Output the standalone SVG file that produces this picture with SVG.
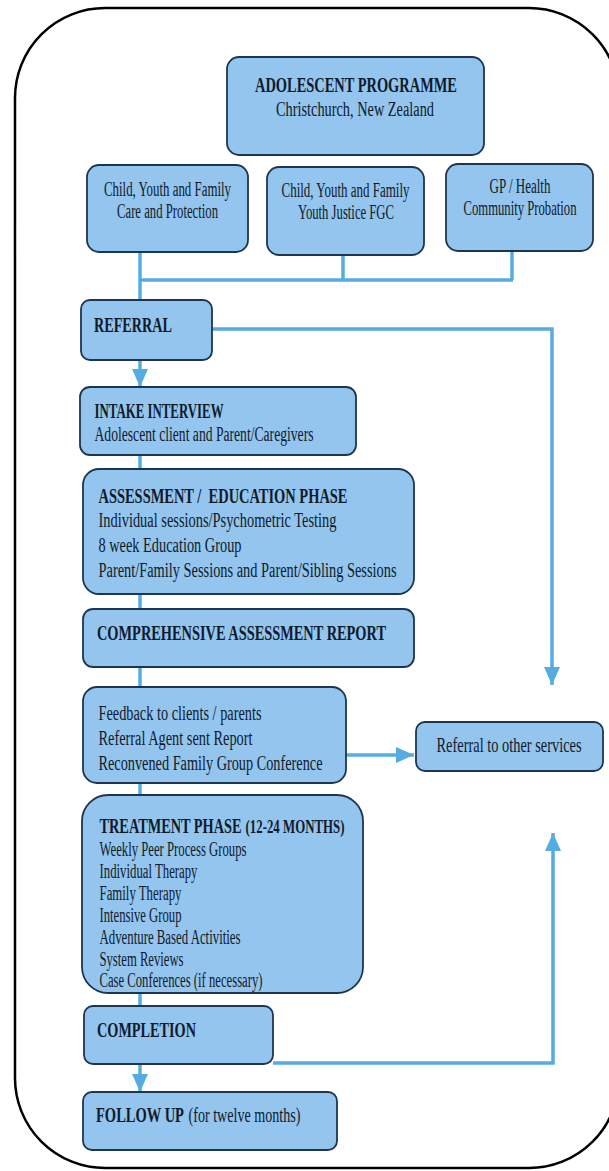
<svg xmlns="http://www.w3.org/2000/svg" width="609" height="1171" viewBox="0 0 609 1171">
<style>
.frame{fill:#fff;stroke:#000;stroke-width:2.5}
.box{fill:#93c5ee;stroke:#1e3550;stroke-width:1.8}
.t{font-family:"Liberation Serif","Times New Roman",serif;font-size:20px;fill:#111a2a}
.b{font-weight:bold}
.m{text-anchor:middle}
.c{stroke:#55ace2;stroke-width:3.5;fill:none}
</style>
<defs>
<marker id="ah" markerUnits="userSpaceOnUse" viewBox="0 0 18 16" refX="18" refY="8" markerWidth="18" markerHeight="16" orient="auto">
<path d="M0,0 L18,8 L0,16 z" fill="#55ace2"/>
</marker>
</defs>
<rect class="frame" x="15" y="8" width="604" height="1160" rx="90" ry="90"/>
<g id="connectors">
<path class="c" d="M140,252 V300"/>
<path class="c" d="M140,280 H513"/>
<path class="c" d="M343,255 V280"/>
<path class="c" d="M512,251 V280"/>
<path class="c" d="M212,329 H552 V685" marker-end="url(#ah)"/>
<path class="c" d="M140,360 V387" marker-end="url(#ah)"/>
<path class="c" d="M140,455 V469"/>
<path class="c" d="M140,594 V609"/>
<path class="c" d="M140,667 V687"/>
<path class="c" d="M346,755 H414" marker-end="url(#ah)"/>
<path class="c" d="M140,783 V795"/>
<path class="c" d="M140,993 V1006"/>
<path class="c" d="M140,1064 V1092" marker-end="url(#ah)"/>
<path class="c" d="M273,1063 H553 V833" marker-end="url(#ah)"/>
</g>
<g id="adolescent">
<rect class="box" x="227" y="57" width="257" height="98" rx="12"/>
<text class="t b m" x="356" y="92" textLength="202" lengthAdjust="spacingAndGlyphs">ADOLESCENT PROGRAMME</text>
<text class="t m" x="355" y="116" textLength="158" lengthAdjust="spacingAndGlyphs">Christchurch, New Zealand</text>
</g>
<g id="cyf-care">
<rect class="box" x="87" y="165" width="161" height="87" rx="12"/>
<text class="t m" x="167.5" y="196" textLength="127" lengthAdjust="spacingAndGlyphs">Child, Youth and Family</text>
<text class="t m" x="167.5" y="218" textLength="101" lengthAdjust="spacingAndGlyphs">Care and Protection</text>
</g>
<g id="cyf-justice">
<rect class="box" x="267" y="167" width="157" height="88" rx="12"/>
<text class="t m" x="345.5" y="197" textLength="128" lengthAdjust="spacingAndGlyphs">Child, Youth and Family</text>
<text class="t m" x="346" y="219" textLength="96" lengthAdjust="spacingAndGlyphs">Youth Justice FGC</text>
</g>
<g id="gp-health">
<rect class="box" x="446" y="164" width="147" height="87" rx="12"/>
<text class="t m" x="520" y="193" textLength="61" lengthAdjust="spacingAndGlyphs">GP / Health</text>
<text class="t m" transform="translate(520,215) scale(0.72,1)" x="0" y="0" textLength="157" lengthAdjust="spacingAndGlyphs">Community Probation</text>
</g>
<g id="referral">
<rect class="box" x="81" y="300" width="131" height="60" rx="9"/>
<text class="t b" x="94" y="332" textLength="78" lengthAdjust="spacingAndGlyphs">REFERRAL</text>
</g>
<g id="intake">
<rect class="box" x="80" y="387" width="276" height="68" rx="10"/>
<text class="t b" x="94.5" y="418" textLength="129" lengthAdjust="spacingAndGlyphs">INTAKE INTERVIEW</text>
<text class="t" x="94.5" y="441" textLength="219" lengthAdjust="spacingAndGlyphs">Adolescent client and Parent/Caregivers</text>
</g>
<g id="assessment">
<rect class="box" x="83" y="469" width="331" height="125" rx="16"/>
<text class="t b" x="98.5" y="503" textLength="249" lengthAdjust="spacingAndGlyphs" style="white-space:pre">ASSESSMENT /  EDUCATION PHASE</text>
<text class="t" x="98.5" y="527" textLength="238" lengthAdjust="spacingAndGlyphs">Individual sessions/Psychometric Testing</text>
<text class="t" x="98.5" y="552" textLength="143" lengthAdjust="spacingAndGlyphs">8 week Education Group</text>
<text class="t" x="98.5" y="577" textLength="298" lengthAdjust="spacingAndGlyphs">Parent/Family Sessions and Parent/Sibling Sessions</text>
</g>
<g id="report">
<rect class="box" x="83" y="609" width="331" height="58" rx="10"/>
<text class="t b" x="97" y="640" textLength="289" lengthAdjust="spacingAndGlyphs">COMPREHENSIVE ASSESSMENT REPORT</text>
</g>
<g id="feedback">
<rect class="box" x="83" y="687" width="263" height="96" rx="14"/>
<text class="t" x="98.5" y="720" textLength="163" lengthAdjust="spacingAndGlyphs">Feedback to clients / parents</text>
<text class="t" x="98.5" y="745" textLength="154" lengthAdjust="spacingAndGlyphs">Referral Agent sent Report</text>
<text class="t" x="98.5" y="770" textLength="224" lengthAdjust="spacingAndGlyphs">Reconvened Family Group Conference</text>
</g>
<g id="other-services">
<rect class="box" x="416" y="722" width="187" height="49" rx="9"/>
<text class="t m" transform="translate(509,752) scale(0.72,1)" x="0" y="0" textLength="201.4" lengthAdjust="spacingAndGlyphs">Referral to other services</text>
</g>
<g id="treatment">
<rect class="box" x="82" y="795" width="281" height="198" rx="26"/>
<text class="t b" transform="translate(99.5,833) scale(0.72,1)" x="0" y="0" textLength="197.2" lengthAdjust="spacingAndGlyphs">TREATMENT PHASE</text>
<text class="t b" transform="translate(245.5,833) scale(0.72,1)" x="0" y="0" textLength="137.5" lengthAdjust="spacingAndGlyphs" style="font-size:18px">(12-24 MONTHS)</text>
<text class="t" x="99.5" y="856" textLength="147" lengthAdjust="spacingAndGlyphs">Weekly Peer Process Groups</text>
<text class="t" x="99.5" y="878" textLength="98" lengthAdjust="spacingAndGlyphs">Individual Therapy</text>
<text class="t" x="99.5" y="900" textLength="82" lengthAdjust="spacingAndGlyphs">Family Therapy</text>
<text class="t" x="99.5" y="922" textLength="82" lengthAdjust="spacingAndGlyphs">Intensive Group</text>
<text class="t" x="99.5" y="944" textLength="141" lengthAdjust="spacingAndGlyphs">Adventure Based Activities</text>
<text class="t" x="99.5" y="966" textLength="84" lengthAdjust="spacingAndGlyphs">System Reviews</text>
<text class="t" x="99.5" y="987" textLength="163" lengthAdjust="spacingAndGlyphs">Case Conferences (if necessary)</text>
</g>
<g id="completion">
<rect class="box" x="84" y="1006" width="189" height="58" rx="9"/>
<text class="t b" x="97" y="1037" textLength="99" lengthAdjust="spacingAndGlyphs">COMPLETION</text>
</g>
<g id="follow-up">
<rect class="box" x="83" y="1092" width="254" height="58" rx="9"/>
<text class="t b" transform="translate(96,1122) scale(0.72,1)" x="0" y="0" textLength="122.2" lengthAdjust="spacingAndGlyphs">FOLLOW UP</text>
<text class="t" transform="translate(188.5,1122) scale(0.72,1)" x="0" y="0" textLength="155.6" lengthAdjust="spacingAndGlyphs">(for twelve months)</text>
</g>
</svg>
